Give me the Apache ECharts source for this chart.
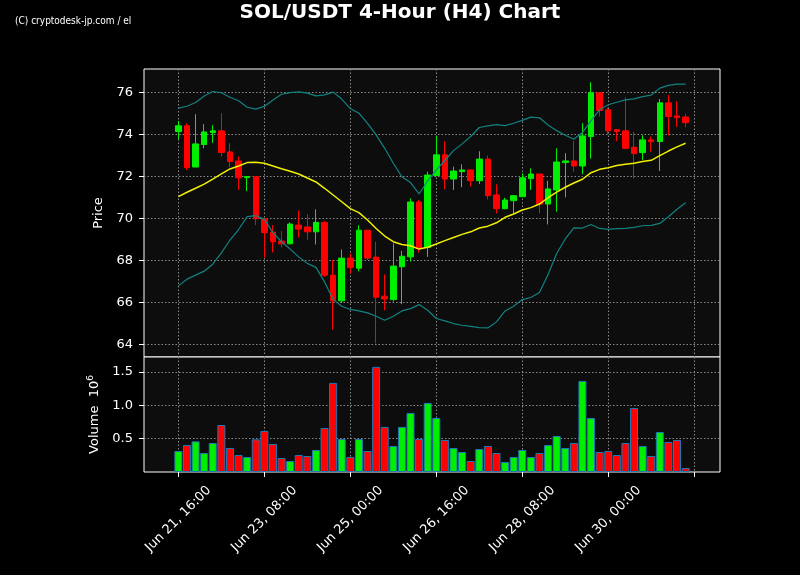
<!DOCTYPE html>
<html><head><meta charset="utf-8">
<script src="https://cdn.jsdelivr.net/npm/echarts@6/dist/echarts.min.js"></script>
<style>html,body{margin:0;padding:0;background:#000}#c{width:800px;height:575px}</style>
</head><body><div id="c"></div><script>
// ---- data (H4 candles, starting Jun 21 16:00) ----
const opens = [74.13,74.40,72.44,73.51,74.08,74.16,73.16,72.73,71.94,71.98,
  69.98,69.35,68.92,68.79,69.68,69.59,69.36,69.81,67.30,66.08,
  68.11,67.63,69.44,68.16,66.30,66.14,67.70,68.17,70.78,68.62,
  72.03,73.02,71.87,72.22,72.30,71.79,72.82,71.11,70.46,70.84,
  71.03,71.89,72.11,70.68,71.35,72.65,72.73,72.49,73.89,75.97,
  75.16,74.22,74.16,73.38,73.13,73.73,73.65,75.49,74.87,74.82];
const closes = [74.40,72.41,73.54,74.11,74.16,73.13,72.70,71.93,71.99,69.98,
  69.32,68.89,68.79,69.73,69.49,69.36,69.81,67.30,66.08,68.11,
  67.67,69.44,68.11,66.25,66.17,67.73,68.20,70.78,68.57,72.06,
  73.02,71.87,72.25,72.30,71.79,72.82,71.08,70.46,70.87,71.08,
  71.93,72.11,70.68,71.40,72.68,72.73,72.49,73.92,75.97,75.13,
  74.16,74.13,73.33,73.08,73.73,73.65,75.49,74.84,74.79,74.55];
const highs = [74.63,74.52,74.95,74.48,74.43,75.00,73.57,72.94,72.00,71.98,
  69.98,69.68,69.40,69.81,70.38,70.20,70.43,69.87,68.02,68.52,
  68.33,69.67,69.44,68.89,67.33,68.81,68.46,70.95,70.87,72.22,
  73.92,73.67,72.46,72.57,72.33,73.19,72.98,71.62,70.98,71.11,
  72.14,72.38,72.11,71.79,73.33,73.10,73.68,74.52,76.47,75.97,
  75.27,74.24,75.76,74.11,73.95,73.89,75.67,75.87,75.57,74.97];
const lows = [73.76,72.30,72.43,73.33,73.59,72.94,72.43,71.35,71.30,69.68,
  68.14,68.38,68.62,68.77,69.09,68.98,68.76,67.22,64.71,65.98,
  67.38,67.48,68.02,64.05,65.63,66.05,65.92,67.95,68.37,68.17,
  72.02,71.38,71.35,71.48,71.51,71.63,70.90,70.24,70.43,70.21,
  71.03,71.35,70.24,69.71,70.32,71.00,72.22,72.10,72.84,74.84,
  73.98,73.67,73.28,71.90,72.78,73.17,72.25,73.95,74.35,74.33];
const volumes = [0.315,0.405,0.46,0.285,0.435,0.705,0.36,0.255,0.225,0.49,
  0.615,0.42,0.21,0.165,0.255,0.24,0.33,0.66,1.336,0.495,
  0.225,0.495,0.315,1.577,0.676,0.39,0.676,0.886,0.495,1.036,
  0.81,0.48,0.36,0.30,0.165,0.345,0.39,0.285,0.15,0.225,
  0.33,0.225,0.285,0.405,0.54,0.36,0.435,1.366,0.81,0.30,
  0.315,0.255,0.435,0.96,0.39,0.24,0.60,0.45,0.48,0.06];
const sma = [71.03,71.24,71.43,71.63,71.87,72.11,72.35,72.49,72.65,72.67,
  72.62,72.49,72.36,72.24,72.11,71.92,71.73,71.43,71.11,70.79,
  70.46,70.27,69.92,69.52,69.16,68.89,68.76,68.70,68.54,68.63,
  68.78,68.94,69.09,69.24,69.36,69.54,69.63,69.79,70.05,70.21,
  70.40,70.51,70.68,70.98,71.25,71.48,71.68,71.86,72.17,72.33,
  72.41,72.51,72.57,72.62,72.70,72.76,72.98,73.20,73.40,73.57];
const upper = [75.24,75.33,75.51,75.82,76.03,75.97,75.76,75.59,75.28,75.19,
  75.32,75.63,75.90,75.98,76.01,75.95,75.82,75.87,76.00,75.67,
  75.22,75.00,74.52,73.97,73.33,72.62,71.98,71.70,71.16,71.79,
  72.30,72.75,73.22,73.54,73.89,74.32,74.40,74.46,74.41,74.52,
  74.66,74.81,74.78,74.44,74.17,73.95,73.76,74.08,74.65,75.16,
  75.40,75.52,75.63,75.68,75.79,75.86,76.19,76.32,76.38,76.38];
const lower = [66.79,67.11,67.30,67.49,67.82,68.36,68.97,69.47,70.08,70.13,
  69.95,69.32,68.89,68.54,68.17,67.86,67.67,66.98,66.15,65.82,
  65.67,65.60,65.51,65.35,65.16,65.35,65.60,65.71,65.90,65.63,
  65.24,65.13,65.00,64.92,64.87,64.81,64.79,65.08,65.60,65.82,
  66.14,66.24,66.48,67.33,68.33,69.02,69.55,69.54,69.71,69.52,
  69.48,69.51,69.52,69.57,69.65,69.67,69.76,70.08,70.43,70.74];
const xTickLabels = ['Jun 21, 16:00','Jun 23, 08:00','Jun 25, 00:00','Jun 26, 16:00','Jun 28, 08:00','Jun 30, 00:00',''];
const priceTicks = [64,66,68,70,72,74,76];
const volumeTicks = [0.5,1.0,1.5];

// ---- build ----
const PAD_L = 4, PAD_R = 4, STEP = 10;
const N = opens.length;
const cats = [];
for (let i = 0; i < PAD_L + N + PAD_R; i++) cats.push('c' + i);
const isTick = idx => idx >= PAD_L && (idx - PAD_L) % STEP === 0;
const tickLabel = idx => xTickLabels[(idx - PAD_L) / STEP] || '';

const candleData = opens.map((o, i) => [i + PAD_L, o, closes[i], lows[i], highs[i]]);
const GREEN = '#00ee00', RED = '#ff0000';
const volData = volumes.map((v, i) => ({
  value: [i + PAD_L, v],
  itemStyle: {color: closes[i] >= opens[i] ? GREEN : RED}
}));
const lineData = arr => arr.map((v, i) => [i + PAD_L, v]);

const gridLine = {show: true, lineStyle: {color: '#8a8a8a', type: [1.5, 2], width: 1}};
const FONT = 'DejaVu Sans';

const chart = echarts.init(document.getElementById('c'), null, {renderer: 'canvas'});
chart.setOption({
  backgroundColor: '#000',
  animation: false,
  title: {
    text: 'SOL/USDT 4-Hour (H4) Chart', left: 'center', top: -2,
    textStyle: {color: '#fff', fontSize: 20, fontWeight: 'bold', fontFamily: FONT}
  },
  graphic: [{
    type: 'text', left: 15, top: 16,
    style: {text: '(C) cryptodesk-jp.com / el', fill: '#fff', fontSize: 10,
      fontFamily: "'Liberation Sans Narrow', 'DejaVu Sans Condensed', sans-serif"}
  }],
  grid: [
    {left: 144, top: 69, width: 576, height: 288, show: true, backgroundColor: '#0d0d0d', borderColor: '#fff', borderWidth: 1},
    {left: 144, top: 357, width: 576, height: 115, show: true, backgroundColor: '#0d0d0d', borderColor: '#fff', borderWidth: 1}
  ],
  xAxis: [
    {type: 'category', gridIndex: 0, data: cats, boundaryGap: false,
     axisLine: {show: false}, axisTick: {show: false}, axisLabel: {show: false},
     splitLine: Object.assign({interval: (i) => isTick(i)}, gridLine)},
    {type: 'category', gridIndex: 1, data: cats, boundaryGap: false,
     axisLine: {show: false},
     axisTick: {show: true, interval: (i) => isTick(i), length: 5, lineStyle: {color: '#fff'}},
     axisLabel: {show: true, interval: (i) => isTick(i), formatter: (v, i) => tickLabel(i),
       rotate: 45, align: 'center', verticalAlign: 'middle', margin: 47,
       color: '#fff', fontSize: 13, fontFamily: FONT},
     splitLine: Object.assign({interval: (i) => isTick(i)}, gridLine)}
  ],
  yAxis: [
    {type: 'value', gridIndex: 0, min: 63.41, max: 77.1, scale: true,
     axisLine: {show: false},
     axisTick: {show: true, length: 5, lineStyle: {color: '#fff'}, customValues: priceTicks},
     axisLabel: {color: '#fff', fontSize: 13, fontFamily: FONT, margin: 11, customValues: priceTicks},
     splitLine: gridLine,
     name: 'Price', nameLocation: 'middle', nameGap: 27,
     nameTextStyle: {color: '#fff', fontSize: 13, fontFamily: FONT}},
    {type: 'value', gridIndex: 1, min: 0, max: 1.725,
     axisLine: {show: false},
     axisTick: {show: true, length: 5, lineStyle: {color: '#fff'}, customValues: volumeTicks},
     axisLabel: {color: '#fff', fontSize: 13, fontFamily: FONT, margin: 11, customValues: volumeTicks,
       formatter: v => v.toFixed(1)},
     splitLine: gridLine,
     name: '{b|Volume  10}{s|6}', nameLocation: 'middle', nameGap: 33,
     nameTextStyle: {color: '#fff', fontSize: 13, fontFamily: FONT,
       rich: {b: {color: '#fff', fontSize: 13, fontFamily: FONT, lineHeight: 15, verticalAlign: 'bottom'},
              s: {color: '#fff', fontSize: 9, fontFamily: FONT, lineHeight: 15, verticalAlign: 'top'}}}}
  ],
  series: [
    {type: 'candlestick', xAxisIndex: 0, yAxisIndex: 0, data: candleData,
     encode: {x: 0, y: [1, 2, 3, 4]}, barWidth: 6, z: 3,
     itemStyle: {color: GREEN, color0: RED, borderColor: GREEN, borderColor0: RED, borderWidth: 1}},
    {type: 'line', xAxisIndex: 0, yAxisIndex: 0, data: lineData(upper), showSymbol: false, z: 4,
     lineStyle: {color: '#128282', width: 1.2}},
    {type: 'line', xAxisIndex: 0, yAxisIndex: 0, data: lineData(lower), showSymbol: false, z: 4,
     lineStyle: {color: '#128282', width: 1.2}},
    {type: 'line', xAxisIndex: 0, yAxisIndex: 0, data: lineData(sma), showSymbol: false, z: 5,
     lineStyle: {color: '#f0f000', width: 1.5}},
    {type: 'bar', xAxisIndex: 1, yAxisIndex: 1, data: volData, barWidth: 8,
     itemStyle: {borderColor: '#1f77b4', borderWidth: 1}}
  ]
});
</script></body></html>
